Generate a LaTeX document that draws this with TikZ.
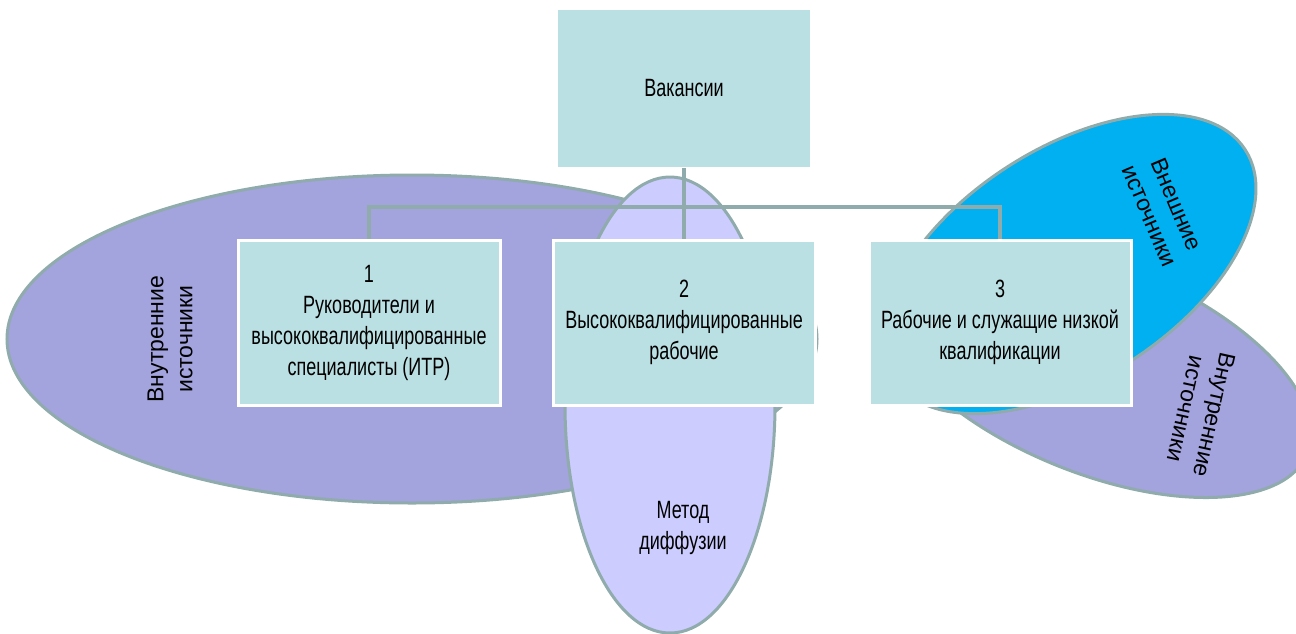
\documentclass[tikz,border=0pt]{standalone}
\usepackage{fontspec}
\setmainfont{Liberation Sans}
\newfontfamily\narrowfont[FakeStretch=0.72]{Liberation Sans}
\usepackage{tikz}
\usetikzlibrary{shapes.geometric, positioning}
\definecolor{boxteal}{HTML}{BBE0E3}
\definecolor{linegray}{HTML}{8FABAB}
\definecolor{innerpurple}{HTML}{A3A3DE}
\definecolor{diffviolet}{HTML}{CCCCFF}
\definecolor{outerblue}{HTML}{00B0F0}

\begin{document}
\begin{tikzpicture}[
    x=1pt, y=-1pt,
    vacancy/.style={
        rectangle, fill=boxteal, draw=white, line width=3pt,
        inner sep=0pt, outer sep=0pt, align=center,
        font=\narrowfont\fontsize{25}{31}\selectfont,
        minimum width=255pt, minimum height=158pt,
    },
    group/.style={vacancy, minimum width=262pt, minimum height=165pt},
    source/.style={ellipse, draw=linegray, line width=3pt, inner sep=0pt},
    link/.style={draw=linegray, line width=3.5pt},
    srclabel/.style={align=center, font=\fontsize{23}{29}\selectfont},
]
\useasboundingbox (0,0) rectangle (1296,633);

% Sources
\node[source, fill=innerpurple, minimum width=810pt, minimum height=328pt] (intl) at (412,339) {};
\node[source, fill=diffviolet, minimum width=210pt, minimum height=456pt] (diff) at (670,405) {};
\node[source, fill=innerpurple, minimum width=456pt, minimum height=210pt, rotate=-22] (intr) at (1096,368) {};
\node[source, fill=outerblue, minimum width=420pt, minimum height=230pt, rotate=33] (extr) at (1069,264) {};

% Groups
\node[group] (g1) at (369,322.5) {1\\Руководители и\\высококвалифицированные\\специалисты (ИТР)};
\node[group, right=53pt of g1] (g2) {2\\Высококвалифицированные\\рабочие};
\node[group, right=54pt of g2] (g3) {3\\Рабочие и служащие низкой\\квалификации};
\node[vacancy, above=72pt of g2, minimum height=160pt] (vac) {Вакансии};

% Links
\coordinate (bus) at (0,207);
\draw[link] (vac.south) -- (vac.south |- bus);
\draw[link] (g1.north) -- (g1.north |- bus) -- (g3.north |- bus) -- (g3.north);
\draw[link] (g2.north) -- (g2.north |- bus);
\node[group] at (g1) {1\\Руководители и\\высококвалифицированные\\специалисты (ИТР)};
\node[group] at (g2) {2\\Высококвалифицированные\\рабочие};
\node[group] at (g3) {3\\Рабочие и служащие низкой\\квалификации};

% Labels
\node[srclabel, rotate=90] (intl-txt) at (170,339) {Внутренние\\источники};
\node[vacancy, draw=none, fill=none] (diff-txt) at (683,528) {Метод\\диффузии};
\node[srclabel, rotate=-67] (extr-txt) at (1163,210) {Внешние\\источники};
\node[srclabel, rotate=-102.5] (intr-txt) at (1200,412) {Внутренние\\источники};

\end{tikzpicture}
\end{document}
